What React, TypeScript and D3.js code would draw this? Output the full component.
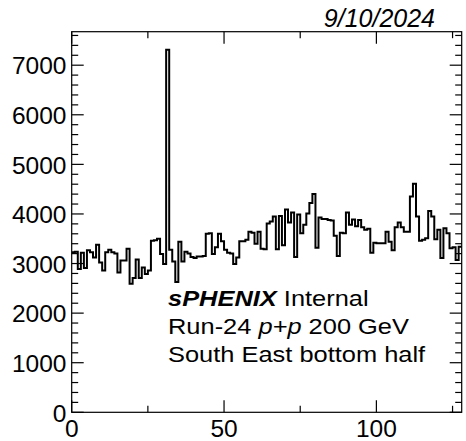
import React from "react";
import * as d3 from "d3";

// Counts per channel (128 channels, South East bottom half)
const counts: number[] = [
  3230, 3240, 2890, 3220, 2910, 3270, 3230, 3120, 3380, 3020,
  2860, 3230, 3280, 3230, 3200, 2820, 3060, 3060, 3300, 2590,
  2710, 3080, 2710, 2920, 2790, 2860, 3460, 3470, 3500, 3190,
  2990, 7310, 3280, 3040, 2630, 3440, 3040, 3240, 3200, 3130,
  3110, 3140, 3140, 3150, 3600, 3610, 3190, 3330, 3600, 3450,
  3280, 3220, 3200, 2990, 3120, 3450, 3450, 3480, 3640, 3620,
  3400, 3640, 3300, 3290, 3810, 3850, 3950, 3290, 3960, 3370,
  4090, 3830, 4030, 3130, 3990, 3610, 3780, 4010, 4220, 4400,
  3320, 3930, 3900, 3900, 3880, 3870, 3560, 3150, 3620, 3610,
  4030, 3780, 3890, 3750, 3880, 3730, 3680, 3700, 3220, 3420,
  3410, 3410, 3410, 3640, 3440, 3270, 3730, 3830, 3730, 3640,
  3640, 4350, 4610, 3950, 3460, 3480, 3510, 4060, 3950, 3490,
  3680, 3110, 3710, 3610, 3310, 3330, 3070, 3340,
];

const xTicksMajor: number[] = [0, 50, 100];
const yTicksMajor: number[] = [0, 1000, 2000, 3000, 4000, 5000, 6000, 7000];
const dateLabel = "9/10/2024";

const W = 466;
const H = 441;
const frame = { left: 71.7, right: 461.7, top: 31.7, bottom: 412.3 };
const xMax = counts.length;
const yMax = d3.max(counts)! * 1.05;

export default function App() {
  const x = d3.scaleLinear().domain([0, xMax]).range([frame.left, frame.right]);
  const y = d3.scaleLinear().domain([0, yMax]).range([frame.bottom, frame.top]);

  const stepData = counts.map((v, i) => [i, v] as [number, number]);
  stepData.push([xMax, counts[counts.length - 1]]);
  const path = d3
    .line<[number, number]>()
    .x((d) => x(d[0]))
    .y((d) => y(d[1]))
    .curve(d3.curveStepAfter)(stepData)!;

  const xMinor = d3.range(0, xMax + 0.001, 25).filter((v) => !xTicksMajor.includes(v));
  const yMinor = d3.range(0, yMax, 200).filter((v) => v % 1000 !== 0);

  const font = "'Liberation Sans', Arial, Helvetica, sans-serif";
  const majorLen = 12;
  const minorLen = 6.5;

  return (
    <svg
      width={W}
      height={H}
      style={{ position: "absolute", left: 0, top: 0, background: "#fff" }}
      fontFamily={font}
    >
      <rect x={0} y={0} width={W} height={H} fill="#fff" />

      {/* histogram */}
      <path d={path} fill="none" stroke="#000" strokeWidth={2} />

      {/* frame */}
      <rect
        x={frame.left}
        y={frame.top}
        width={frame.right - frame.left}
        height={frame.bottom - frame.top}
        fill="none"
        stroke="#000"
        strokeWidth={1.2}
      />

      {/* x ticks, bottom and top */}
      <g stroke="#000" strokeWidth={1.2}>
        {xTicksMajor.map((t) => (
          <g key={"xM" + t}>
            <line x1={x(t)} x2={x(t)} y1={frame.bottom} y2={frame.bottom - majorLen} />
            <line x1={x(t)} x2={x(t)} y1={frame.top} y2={frame.top + majorLen} />
          </g>
        ))}
        {xMinor.map((t) => (
          <g key={"xm" + t}>
            <line x1={x(t)} x2={x(t)} y1={frame.bottom} y2={frame.bottom - minorLen} />
            <line x1={x(t)} x2={x(t)} y1={frame.top} y2={frame.top + minorLen} />
          </g>
        ))}
        {yTicksMajor.map((t) => (
          <g key={"yM" + t}>
            <line x1={frame.left} x2={frame.left + majorLen} y1={y(t)} y2={y(t)} />
            <line x1={frame.right} x2={frame.right - majorLen} y1={y(t)} y2={y(t)} />
          </g>
        ))}
        {yMinor.map((t) => (
          <g key={"ym" + t}>
            <line x1={frame.left} x2={frame.left + minorLen} y1={y(t)} y2={y(t)} />
            <line x1={frame.right} x2={frame.right - minorLen} y1={y(t)} y2={y(t)} />
          </g>
        ))}
      </g>

      {/* tick labels */}
      <g fontSize={24.5} fill="#000">
        {xTicksMajor.map((t) => (
          <text key={"xl" + t} x={x(t)} y={437} textAnchor="middle">
            {t}
          </text>
        ))}
        {yTicksMajor.map((t) => (
          <text key={"yl" + t} x={66.5} y={y(t) + 9.3} textAnchor="end">
            {t}
          </text>
        ))}
      </g>

      {/* date */}
      <text x={435} y={27} fontSize={25} fontStyle="italic" textAnchor="end" fill="#000">
        {dateLabel}
      </text>

      {/* labels */}
      <g transform="translate(168,306) scale(1.13,1)" fontSize={22.5} fill="#000">
        <text x={0} y={0}>
          <tspan fontWeight="bold" fontStyle="italic">sPHENIX</tspan>
          <tspan> Internal</tspan>
        </text>
        <text x={0} y={28}>
          <tspan>Run-24 </tspan>
          <tspan fontStyle="italic">p+p</tspan>
          <tspan> 200 GeV</tspan>
        </text>
        <text x={0} y={56}>South East bottom half</text>
      </g>
    </svg>
  );
}
